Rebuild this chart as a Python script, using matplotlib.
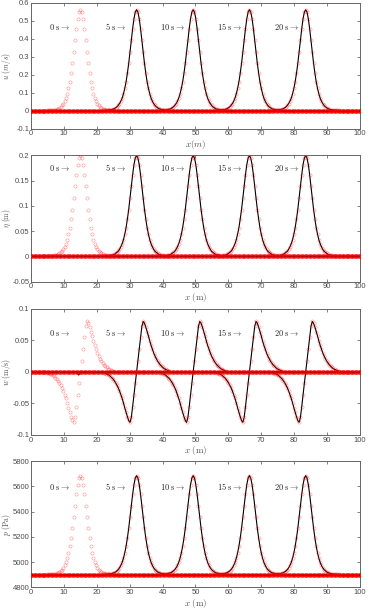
import numpy as np
import matplotlib.pyplot as plt

plt.rcParams['mathtext.fontset'] = 'cm'
plt.rcParams['axes.unicode_minus'] = False
plt.rcParams['font.family'] = ['Liberation Sans', 'DejaVu Sans']

# times and crest positions of the solitary wave
times = [0, 5, 10, 15, 20]
centers = [15.0, 32.1, 49.3, 66.4, 83.5]
label_right = [11.9, 28.9, 47.0, 64.3, 81.6]

# half profiles, every 0.4 m from the crest outward
u_half = [0.560, 0.547, 0.510, 0.455, 0.390, 0.324, 0.262, 0.207, 0.160, 0.123,
          0.093, 0.069, 0.052, 0.039, 0.029, 0.021, 0.016, 0.011, 0.008, 0.006,
          0.005, 0.003, 0.002, 0.002, 0.001, 0.001]
eta_half = [0.200, 0.195, 0.182, 0.162, 0.139, 0.116, 0.093, 0.074, 0.057, 0.044,
            0.033, 0.025, 0.019, 0.014, 0.010, 0.008, 0.006, 0.004, 0.003, 0.002,
            0.002, 0.001, 0.001, 0.001, 0.0, 0.0]
w_half = [0.0, 0.018, 0.036, 0.055, 0.072, 0.080, 0.077, 0.071, 0.064, 0.057,
          0.049, 0.042, 0.036, 0.030, 0.025, 0.021, 0.017, 0.014, 0.011, 0.009,
          0.007, 0.005, 0.004, 0.003, 0.002, 0.001]
p_half = [5685, 5666, 5614, 5537, 5447, 5354, 5267, 5190, 5125, 5072,
          5030, 4997, 4973, 4954, 4940, 4930, 4922, 4916, 4912, 4909,
          4906, 4905, 4903, 4902, 4902, 4902]

# numerical solution at t = 0 (flat, small dip in w)
t0_x = [0.0, 13.8, 14.5, 15.2, 100.0]
t0_w = [0.0, 0.0, -0.005, 0.0, 0.0]

dx = 0.4
grid = np.arange(0, 100.001, dx)

panels = [
    dict(half=u_half, odd=False, base=0.0, ylim=(-0.1, 0.6),
         yticks=np.arange(-0.1, 0.61, 0.1), ylabel=r'$u\ (m/s)$',
         xlabel=r'$x(m)$', ty=0.465, t0=None),
    dict(half=eta_half, odd=False, base=0.0, ylim=(-0.05, 0.2),
         yticks=np.arange(-0.05, 0.201, 0.05), ylabel=r'$\eta\ (\mathrm{m})$',
         xlabel=r'$x\ (\mathrm{m})$', ty=0.176, t0=None),
    dict(half=w_half, odd=True, base=0.0, ylim=(-0.1, 0.1),
         yticks=[-0.1, -0.05, 0, 0.05, 0.1], ylabel=r'$w\ (\mathrm{m/s})$',
         xlabel=r'$x\ (\mathrm{m})$', ty=0.062, t0=t0_w),
    dict(half=p_half, odd=False, base=4900.0, ylim=(4800, 5800),
         yticks=np.arange(4800, 5801, 200), ylabel=r'$p\ (\mathrm{Pa})$',
         xlabel=r'$x\ (\mathrm{m})$', ty=5597, t0=None),
]

bottoms = [0.7894, 0.5390, 0.2881, 0.0388]
left, width, height = 0.0842, 0.894, 0.2065

fig = plt.figure(figsize=(3.68, 6.11), dpi=100)

for pan, b in zip(panels, bottoms):
    ax = fig.add_axes([left, b, width, height])
    half = np.asarray(pan['half'], dtype=float)
    off = np.arange(len(half)) * dx
    full_off = np.concatenate([-off[:0:-1], off])
    if pan['odd']:
        prof = np.concatenate([-half[:0:-1], half])
    else:
        prof = np.concatenate([half[:0:-1], half])
    base = pan['base']

    for t, c in zip(times, centers):
        lo = grid[grid < c - off[-1] - 0.2]
        hi = grid[grid > c + off[-1] + 0.2]
        xs = np.concatenate([lo, c + full_off, hi])
        ys = np.concatenate([np.full(lo.size, base), prof, np.full(hi.size, base)])
        if t == 0:
            if pan['t0'] is not None:
                ax.plot(t0_x, pan['t0'], color='k', lw=0.8, zorder=2)
            else:
                ax.plot([0, 100], [base, base], color='k', lw=0.8, zorder=2)
        else:
            ax.plot(xs, ys, color='k', lw=0.8, zorder=2)
        ax.plot(xs, ys, 'o', mfc='none', mec='red', ms=2.3, mew=0.45,
                alpha=0.4, zorder=3)

    for t, xr in zip(times, label_right):
        ax.text(xr, pan['ty'], r'$%d\ \mathrm{s} \rightarrow$' % t,
                ha='right', va='center', fontsize=6, color='0.15')

    ax.set_xlim(0, 100)
    ax.set_ylim(*pan['ylim'])
    ax.set_xticks(np.arange(0, 101, 10))
    ax.set_yticks(pan['yticks'])
    ax.set_yticklabels(['%g' % round(v, 3) for v in pan['yticks']])
    ax.tick_params(direction='in', top=True, right=True, length=2.5,
                   width=0.5, labelsize=5.5, colors='0.3', pad=1.2)
    for s in ax.spines.values():
        s.set_color('0.4')
        s.set_linewidth(0.7)
    ax.set_xlabel(pan['xlabel'], fontsize=6.5, color='0.3', labelpad=0.5)
    ax.set_ylabel(pan['ylabel'], fontsize=5.5, color='0.3')
    ax.yaxis.set_label_coords(-0.056, 0.5)

fig.savefig('out.png', dpi=100)
